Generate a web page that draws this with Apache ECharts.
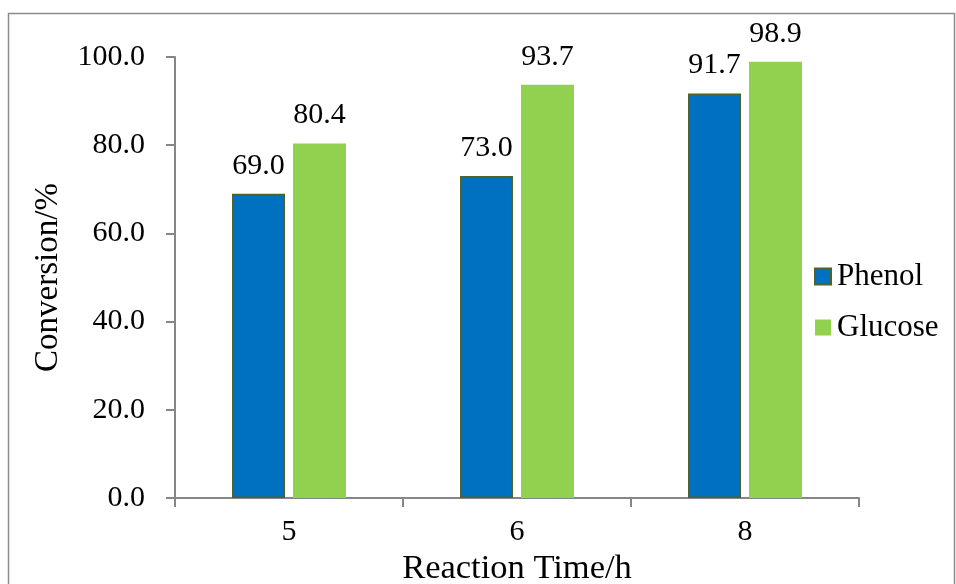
<!DOCTYPE html>
<html lang="en">
<head>
    <meta charset="UTF-8">
    <title>Conversion</title>
    <script src="https://cdn.jsdelivr.net/npm/echarts@6/dist/echarts.min.js"></script>
    <style>
        html, body { margin: 0; padding: 0; background: #fff; }
        #main { width: 956px; height: 584px; }
    </style>
</head>
<body>
<div id="main"></div>
<script type="text/javascript">
    var categories = ['5', '6', '8'];
    var phenol = [69.0, 73.0, 91.7];
    var glucose = [80.4, 93.7, 98.9];
    var yTicks = [0, 20, 40, 60, 80, 100];

    var font = '"Liberation Serif", "Times New Roman", serif';
    var axisGray = '#868686';

    var myChart = echarts.init(document.getElementById('main'));

    var option = {
        animation: false,
        textStyle: { fontFamily: font, color: '#000' },
        graphic: [{
            type: 'rect',
            shape: { x: 8.5, y: 13.5, width: 946, height: 600 },
            style: { fill: 'none', stroke: '#8c8c8c', lineWidth: 1.5 },
            silent: true
        }],
        legend: {
            orient: 'vertical',
            left: 814,
            top: 261,
            padding: 0,
            itemWidth: 16,
            itemHeight: 16,
            itemGap: 20,
            icon: 'rect',
            textStyle: { fontFamily: font, fontSize: 31, lineHeight: 31, color: '#000', padding: [0, 0, 0, 1] },
            data: ['Phenol', 'Glucose']
        },
        grid: {
            left: 175,
            top: 57,
            width: 684,
            height: 441,
            containLabel: false,
            outerBoundsMode: 'none'
        },
        xAxis: {
            type: 'category',
            data: categories,
            name: 'Reaction Time/h',
            nameLocation: 'middle',
            nameGap: 46,
            nameTextStyle: { fontFamily: font, fontSize: 34.5, color: '#000' },
            axisLine: { lineStyle: { color: axisGray, width: 2 } },
            axisTick: { show: true, length: 9, lineStyle: { color: axisGray, width: 2 } },
            axisLabel: { fontFamily: font, fontSize: 30, color: '#000', margin: 19 }
        },
        yAxis: {
            type: 'value',
            min: yTicks[0],
            max: yTicks[yTicks.length - 1],
            interval: yTicks[1] - yTicks[0],
            name: 'Conversion/%',
            nameLocation: 'middle',
            nameGap: 110,
            nameRotate: 90,
            nameTextStyle: { fontFamily: font, fontSize: 33, color: '#000' },
            axisLine: { show: true, lineStyle: { color: axisGray, width: 2 } },
            axisTick: { show: true, length: 9, lineStyle: { color: axisGray, width: 2 } },
            splitLine: { show: false },
            axisLabel: {
                fontFamily: font, fontSize: 30, color: '#000', margin: 30,
                formatter: function (v) { return v.toFixed(1); }
            }
        },
        series: [
            {
                name: 'Phenol',
                type: 'bar',
                data: phenol,
                barWidth: 53,
                barGap: '15%',
                itemStyle: { color: '#0070C0', borderColor: '#4F6228', borderWidth: 1.5 },
                label: {
                    show: true, position: 'top', distance: 13,
                    fontFamily: font, fontSize: 30, color: '#000',
                    formatter: function (p) { return p.value.toFixed(1); }
                }
            },
            {
                name: 'Glucose',
                type: 'bar',
                data: glucose,
                barWidth: 53,
                itemStyle: { color: '#92D050' },
                label: {
                    show: true, position: 'top', distance: 13,
                    fontFamily: font, fontSize: 30, color: '#000',
                    formatter: function (p) { return p.value.toFixed(1); }
                }
            }
        ]
    };

    myChart.setOption(option);
</script>
</body>
</html>
